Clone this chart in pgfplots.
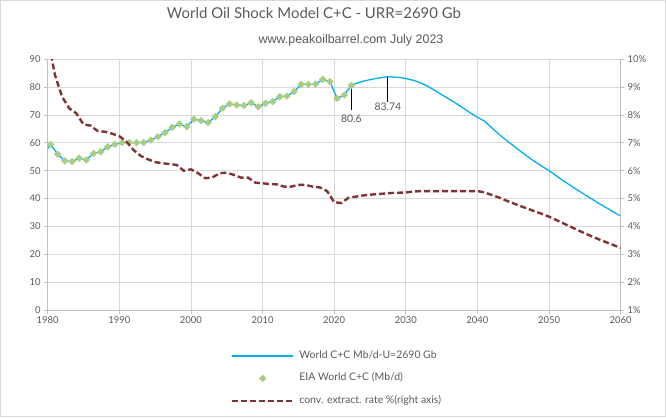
\documentclass[border=0pt]{standalone}
\usepackage{fontspec}
\usepackage{pgfplots}
\usepackage{pgfplotstable}
\pgfplotsset{compat=1.18}
\setmainfont{Lato}
\newfontfamily\subfont{Liberation Sans}
\definecolor{blueline}{RGB}{0,176,240}
\definecolor{eiagreen}{RGB}{169,205,130}
\definecolor{darkred}{RGB}{128,51,49}
\definecolor{gridgray}{RGB}{217,217,217}
\definecolor{axgray}{RGB}{191,191,191}
\definecolor{txtgray}{RGB}{89,89,89}
\pgfplotsset{
  mylegline/.style={legend image code/.code={\draw[##1] (0bp,0bp) -- (61bp,0bp);}},
  mylegmark/.style={legend image code/.code={\draw[mark repeat=2,mark phase=2,##1] plot coordinates {(0bp,0bp) (30.5bp,0bp) (61bp,0bp)};}},
  common/.style={
    at={(47.7bp,107bp)}, anchor=south west,
    scale only axis, width=573bp, height=250.7bp,
    xmin=1980, xmax=2060,
    tick align=outside, major tick length=3.5bp,
    tick style={axgray, line width=0.75bp},
    axis line style={axgray, line width=0.75bp},
    tick label style={font=\fontsize{9.5}{11}\selectfont, text=txtgray},
    /pgf/number format/.cd, 1000 sep={}, assume math mode=true,
  }
}
\pgfplotstableread{
x y
1980.4 59.4
1981.4 55.9
1982.4 53.5
1983.4 53.3
1984.4 54.5
1985.4 53.9
1986.4 56.2
1987.4 56.8
1988.4 58.6
1989.4 59.5
1990.4 60.1
1991.4 60.1
1992.4 60.1
1993.4 60.1
1994.4 61.0
1995.4 62.2
1996.4 63.7
1997.4 65.6
1998.4 66.8
1999.4 65.8
2000.4 68.5
2001.4 68.0
2002.4 67.3
2003.4 69.4
2004.4 72.4
2005.4 74.0
2006.4 73.6
2007.4 73.4
2008.4 74.4
2009.4 73.0
2010.4 74.2
2011.4 74.8
2012.4 76.6
2013.4 76.8
2014.4 78.4
2015.4 81.0
2016.4 81.0
2017.4 81.1
2018.4 82.8
2019.4 82.0
2020.4 76.0
2021.4 77.2
2022.4 80.6
}\eia
\pgfplotstableread{
x y
1980 58.0
1980.4 59.4
1981.4 55.9
1982.4 53.5
1983.4 53.3
1984.4 54.5
1985.4 53.9
1986.4 56.2
1987.4 56.8
1988.4 58.6
1989.4 59.5
1990.4 60.1
1991.4 60.1
1992.4 60.1
1993.4 60.1
1994.4 61.0
1995.4 62.2
1996.4 63.7
1997.4 65.6
1998.4 66.8
1999.4 65.8
2000.4 68.5
2001.4 68.0
2002.4 67.3
2003.4 69.4
2004.4 72.4
2005.4 74.0
2006.4 73.6
2007.4 73.4
2008.4 74.4
2009.4 73.0
2010.4 74.2
2011.4 74.8
2012.4 76.6
2013.4 76.8
2014.4 78.4
2015.4 81.0
2016.4 81.0
2017.4 81.1
2018.4 82.8
2019.4 82.0
2020.4 76.0
2021.4 77.2
2022.4 80.6
2023 81.3
2024 82.1
2025 82.7
2026 83.2
2027 83.6
2027.5 83.74
2028 83.7
2029 83.5
2030 83.1
2031 82.5
2032 81.6
2033 80.4
2034 78.9
2035 77.3
2036 75.8
2037 74.2
2038 72.5
2039 70.8
2040 69.2
2041 67.8
2042 65.4
2043 63.1
2044 61.0
2045 59.0
2046 57.0
2047 55.1
2048 53.3
2049 51.6
2050 50.0
2051 48.2
2052 46.4
2053 44.7
2054 43.0
2055 41.4
2056 39.8
2057 38.2
2058 36.7
2059 35.2
2060 33.7
}\model
\pgfplotstableread{
x y
1980 10.8
1981 9.45
1982 8.66
1983 8.24
1984 8.06
1985 7.66
1986 7.62
1987 7.42
1988 7.40
1989 7.33
1990 7.24
1991 7.04
1992 6.74
1993 6.53
1994 6.41
1995 6.31
1996 6.27
1997 6.24
1998 6.21
1999 6.00
2000 6.05
2001 5.91
2002 5.73
2003 5.76
2004 5.91
2005 5.93
2006 5.85
2007 5.75
2008 5.75
2009 5.57
2010 5.55
2011 5.52
2012 5.51
2013 5.43
2014 5.43
2015 5.49
2016 5.49
2017 5.43
2018 5.40
2019 5.27
2020 4.87
2021 4.84
2022 5.03
2023 5.07
2024 5.11
2025 5.14
2026 5.16
2027 5.18
2028 5.20
2029 5.21
2030 5.22
2031 5.25
2032 5.27
2033 5.27
2034 5.27
2035 5.27
2036 5.27
2037 5.27
2038 5.27
2039 5.27
2040 5.27
2041 5.22
2042 5.13
2043 5.04
2044 4.93
2045 4.83
2046 4.73
2047 4.64
2048 4.54
2049 4.45
2050 4.35
2051 4.23
2052 4.11
2053 3.99
2054 3.87
2055 3.75
2056 3.64
2057 3.53
2058 3.43
2059 3.33
2060 3.23
}\rate
\begin{document}
\begin{tikzpicture}[x=1bp,y=1bp]
\path[use as bounding box] (0,0) rectangle (666,417);
\draw[gridgray, line width=1bp] (0.5,0.5) rectangle (665.5,416.5);
\node[anchor=base, text=txtgray, font=\fontsize{15}{18}\selectfont] at (314,398.7) {World Oil Shock Model C+C - URR=2690 Gb};
\node[anchor=base, text=txtgray, font=\subfont\fontsize{12.5}{15}\selectfont] at (351,373.7) {www.peakoilbarrel.com July 2023};
\begin{axis}[common,
  ymin=0, ymax=90,
  xtick={1980,1990,...,2060}, ytick={0,10,...,90},
  grid=major, grid style={gridgray, line width=0.75bp},
  axis y line*=left, axis x line*=bottom,
]
\addplot[only marks, mark=square*, mark size=2.4bp, mark options={rotate=45, fill=eiagreen, draw=eiagreen}] table {\eia};
\addplot[blueline, line width=1.3bp, mark=none] table {\model};
\addplot[black, line width=0.9bp, mark=none] coordinates {(2022.4,80.6) (2022.4,71.8)};
\addplot[black, line width=0.9bp, mark=none] coordinates {(2027.5,83.74) (2027.5,74.8)};
\node[text=txtgray, font=\fontsize{10.5}{12}\selectfont, inner sep=0pt] at (axis cs:2022.4,68.8) {80.6};
\node[text=txtgray, font=\fontsize{10.5}{12}\selectfont, inner sep=0pt] at (axis cs:2027.5,73.0) {83.74};
\end{axis}
\begin{axis}[common,
  ymin=1, ymax=10, ytick={1,2,...,10},
  axis x line=none, axis y line*=right,
  yticklabel={\pgfmathprintnumber{\tick}\%},
  legend style={at={(0.3199,-0.1635)}, anchor=north west, draw=none, fill=none,
    inner sep=0pt, outer sep=0pt, row sep=12.5bp, column sep=5bp,
    font=\fontsize{10.5}{12}\selectfont, text=txtgray,
    nodes={inner sep=0pt, text height=7.5bp, text depth=2.5bp}},
  legend cell align=left,
]
\addlegendimage{blueline, line width=1.3bp, mylegline}
\addlegendentry{World C+C Mb/d-U=2690 Gb}
\addlegendimage{only marks, mark=square*, mark size=2.4bp, mark options={rotate=45, fill=eiagreen, draw=eiagreen}, mylegmark}
\addlegendentry{EIA World C+C (Mb/d)}
\addplot[darkred, line width=2.4bp, dash pattern=on 6bp off 3bp, mark=none, mylegline] table {\rate};
\addlegendentry{conv. extract. rate \%(right axis)}
\end{axis}
\end{tikzpicture}
\end{document}
